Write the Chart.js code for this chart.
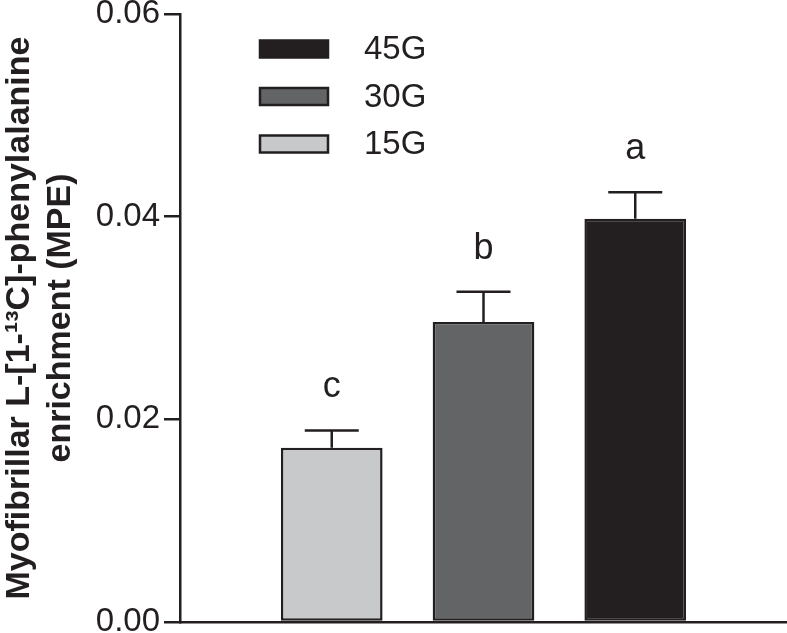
<!DOCTYPE html>
<html>
<head>
<meta charset="utf-8">
<script src="https://cdn.jsdelivr.net/npm/chart.js@4.4.1/dist/chart.umd.min.js"></script>
<style>
  html, body { margin: 0; padding: 0; background: #fff; }
  #wrap { width: 787px; height: 633px; }
</style>
</head>
<body>
<div id="wrap"><canvas id="chart" width="787" height="633"></canvas></div>
<script>
// data
const groups = ['15G', '30G', '45G'];
const positions = [1, 2, 3];
const means = [0.0172, 0.0296, 0.0398];
const sems = [0.0017, 0.0030, 0.0026];
const letters = ['c', 'b', 'a'];
const yTicks = [0, 0.02, 0.04, 0.06];
const legendOrder = ['45G', '30G', '15G'];

const ink = '#231f20';
const fills = { '15G': '#c8c9cb', '30G': '#636466', '45G': '#231f20' };

// error bars + significance letters
const errorBars = {
    id: 'errorBars',
    afterDatasetsDraw(chart) {
        let ctx = chart.ctx;
        let yScale = chart.scales.y;
        let meta = chart.getDatasetMeta(0);
        ctx.save();
        ctx.strokeStyle = ink;
        ctx.lineWidth = 2.5;
        for (let i = 0; i < means.length; i++) {
            let bar = meta.data[i];
            let yTop = yScale.getPixelForValue(means[i] + sems[i]);
            ctx.beginPath();
            ctx.moveTo(bar.x, bar.y);
            ctx.lineTo(bar.x, yTop);
            ctx.moveTo(bar.x - 27, yTop);
            ctx.lineTo(bar.x + 27, yTop);
            ctx.stroke();

            ctx.fillStyle = ink;
            ctx.font = '36px "Liberation Sans", Arial, sans-serif';
            ctx.textAlign = 'center';
            ctx.textBaseline = 'alphabetic';
            ctx.fillText(letters[i], bar.x, yTop - 33);
        }
        ctx.restore();
    }
};

// legend drawn inside the plot, top-left
const boxLegend = {
    id: 'boxLegend',
    afterDraw(chart) {
        let ctx = chart.ctx;
        let area = chart.chartArea;
        ctx.save();
        ctx.lineWidth = 2.5;
        ctx.strokeStyle = ink;
        ctx.font = '33px "Liberation Sans", Arial, sans-serif';
        ctx.textBaseline = 'middle';
        ctx.textAlign = 'left';
        for (let i = 0; i < legendOrder.length; i++) {
            let name = legendOrder[i];
            let cy = area.top + 35 + i * 47.5;
            ctx.fillStyle = fills[name];
            ctx.fillRect(area.left + 80, cy - 8.5, 68, 17);
            ctx.strokeRect(area.left + 80, cy - 8.5, 68, 17);
            ctx.fillStyle = ink;
            ctx.fillText(name, area.left + 184, cy + 1);
        }
        ctx.restore();
    }
};

let ctx = document.getElementById('chart').getContext('2d');
let config = {
    type: 'bar',
    data: {
        datasets: [
            {
                label: 'enrichment',
                data: positions.map((p, i) => ({ x: p, y: means[i] })),
                backgroundColor: groups.map(g => fills[g]),
                borderColor: ink,
                borderWidth: 2.5,
                borderSkipped: false,
                categoryPercentage: 1,
                barPercentage: 0.67
            }
        ]
    },
    options: {
        responsive: false,
        animation: false,
        layout: { padding: { top: 14, right: 0, left: 0, bottom: 0 } },
        scales: {
            x: {
                type: 'linear',
                offset: false,
                min: 0,
                max: 4,
                ticks: { display: false, stepSize: 1 },
                grid: { display: false, drawTicks: false },
                border: { display: true, color: ink, width: 2.5 },
                afterFit(scale) {
                    scale.height = 11;
                    scale.paddingLeft = 0;
                    scale.paddingRight = 0;
                }
            },
            y: {
                min: 0,
                max: 0.06,
                afterBuildTicks(scale) { scale.ticks = yTicks.map(v => ({ value: v })); },
                ticks: {
                    color: ink,
                    padding: 4,
                    font: { family: '"Liberation Sans", Arial, sans-serif', size: 33 },
                    callback: v => v.toFixed(2)
                },
                grid: { display: true, drawOnChartArea: false, drawTicks: true, tickLength: 16, color: ink, lineWidth: 2.5 },
                border: { display: true, color: ink, width: 2.5 },
                title: {
                    display: true,
                    text: ['Myofibrillar L-[1-\u00b9\u00b3C]-phenylalanine', 'enrichment (MPE)'],
                    color: ink,
                    font: { family: '"Liberation Sans", Arial, sans-serif', size: 34, weight: 'bold', lineHeight: 1.18 },
                    padding: { top: 0, bottom: 0 }
                },
                afterFit(scale) {
                    scale.width = 180;
                    scale.paddingTop = 0;
                    scale.paddingBottom = 0;
                }
            }
        },
        plugins: {
            legend: { display: false },
            tooltip: { enabled: false }
        }
    },
    plugins: [errorBars, boxLegend]
};

new Chart(ctx, config);
</script>
</body>
</html>
